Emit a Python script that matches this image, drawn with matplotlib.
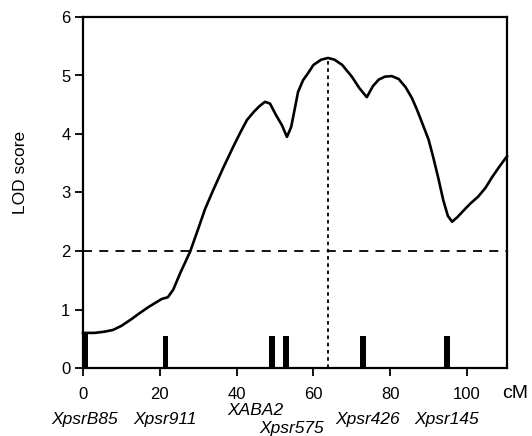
import matplotlib
matplotlib.use("Agg")
import matplotlib.pyplot as plt
import matplotlib.transforms as mtransforms

plt.rcParams['font.family'] = ['Liberation Sans', 'DejaVu Sans']

# LOD profile (cM, LOD)
pos_cm = [0, 3, 5.5, 7.8, 10, 12.5, 14.8, 17, 19, 20.5, 22.1, 23.5, 25.3, 27.9, 30, 31.8,
          33.9, 36.5, 39.1, 41, 42.7, 44.5, 46, 47.4, 48.7, 50.2, 51.8, 53.1, 54.2, 55.2, 56,
          57.3, 58.6, 60, 62, 63.8, 65.5, 67.5, 70, 72, 73.9, 75.5, 77, 78.6, 80.4, 82.2,
          84, 85.6, 87, 88.6, 90, 91.2, 92.5, 93.8, 95, 96.1, 97.5, 99.5, 101, 102.9,
          104.8, 106.6, 108.5, 110.4]
lod = [0.60, 0.60, 0.62, 0.65, 0.72, 0.83, 0.94, 1.04, 1.12, 1.18, 1.21, 1.34, 1.62, 1.99, 2.38, 2.72,
       3.04, 3.42, 3.78, 4.03, 4.24, 4.38, 4.48, 4.55, 4.52, 4.33, 4.15, 3.95, 4.12, 4.45, 4.72,
       4.92, 5.04, 5.18, 5.27, 5.30, 5.27, 5.18, 4.98, 4.78, 4.63, 4.82, 4.93, 4.98, 4.99, 4.94,
       4.80, 4.62, 4.41, 4.14, 3.90, 3.60, 3.25, 2.87, 2.60, 2.50, 2.58, 2.72, 2.82, 2.93,
       3.08, 3.27, 3.45, 3.62]

# Markers
marker_names = ['XpsrB85', 'Xpsr911', 'XABA2', 'Xpsr575', 'Xpsr426', 'Xpsr145']
marker_pos = [0.5, 21.4, 49.2, 52.9, 72.9, 94.8]
marker_height = [0.6, 0.55, 0.55, 0.55, 0.55, 0.55]

peak_pos = 63.8
peak_lod = 5.30
threshold = 2.0

x_ticks = [0, 20, 40, 60, 80, 100]
y_ticks = [0, 1, 2, 3, 4, 5, 6]

fig = plt.figure(figsize=(5.32, 4.36), dpi=100)
ax = fig.add_axes([83/532, 68/436, 424/532, 351/436])

ax.plot(pos_cm, lod, color='black', lw=1.9, solid_joinstyle='round', zorder=3, clip_on=False)
ax.axhline(threshold, color='black', lw=1.3, ls=(0, (5, 4)), zorder=2)
ax.plot([peak_pos, peak_pos], [0, peak_lod], color='black', lw=1.3, ls=(0, (2, 2)), zorder=2)

for p, h in zip(marker_pos, marker_height):
    ax.bar(p, h, width=1.4, color='black', zorder=3, align='center')

ax.set_xlim(0, 110.4)
ax.set_ylim(0, 6)
ax.set_xticks(x_ticks)
ax.set_yticks(y_ticks)
ax.tick_params(direction='out', length=6, width=1.3, labelsize=12, top=False, right=False)
ax.tick_params(axis='x', pad=8)
ax.tick_params(axis='y', pad=3)
for s in ax.spines.values():
    s.set_linewidth(1.6)

ax.set_ylabel('LOD score', fontsize=12.5)
ax.yaxis.set_label_coords(-0.13, 0.556)
ax.text(0.988, -0.072, 'cM', transform=ax.transAxes, fontsize=14, ha='left', va='center')

trans = mtransforms.blended_transform_factory(ax.transData, ax.transAxes)
label_x_shift = {'XABA2': -4.4, 'Xpsr575': 1.5, 'Xpsr426': 1.2}
label_y = {'XABA2': -0.122, 'Xpsr575': -0.173}
for name, p in zip(marker_names, marker_pos):
    ax.text(p + label_x_shift.get(name, 0.0), label_y.get(name, -0.147), name,
            transform=trans, fontsize=12.5, style='italic', ha='center', va='center')

fig.savefig('out.png', dpi=100)
